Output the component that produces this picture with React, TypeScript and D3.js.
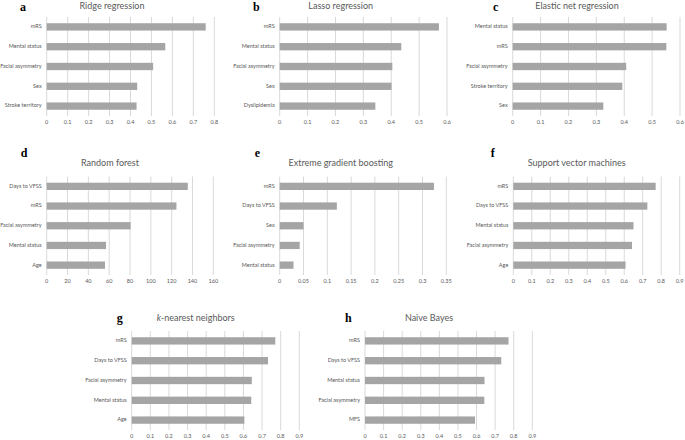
import React from "react";
import * as d3 from "d3";

// ---- data ----
const ridgeCats = ["mRS", "Mental status", "Facial asymmetry", "Sex", "Stroke territory"];
const ridgeVals = [0.759, 0.566, 0.508, 0.432, 0.429];
const ridgeTicks = [0, 0.1, 0.2, 0.3, 0.4, 0.5, 0.6, 0.7, 0.8];

const lassoCats = ["mRS", "Mental status", "Facial asymmetry", "Sex", "Dyslipidemia"];
const lassoVals = [0.571, 0.436, 0.404, 0.401, 0.343];
const lassoTicks = [0, 0.1, 0.2, 0.3, 0.4, 0.5, 0.6];

const elasticCats = ["Mental status", "mRS", "Facial asymmetry", "Stroke territory", "Sex"];
const elasticVals = [0.552, 0.551, 0.407, 0.393, 0.325];
const elasticTicks = [0, 0.1, 0.2, 0.3, 0.4, 0.5, 0.6];

const rfCats = ["Days to VFSS", "mRS", "Facial asymmetry", "Mental status", "Age"];
const rfVals = [135.5, 124.6, 80.6, 57, 56];
const rfTicks = [0, 20, 40, 60, 80, 100, 120, 140, 160];

const xgbCats = ["mRS", "Days to VFSS", "Sex", "Facial asymmetry", "Mental status"];
const xgbVals = [0.324, 0.12, 0.05, 0.042, 0.029];
const xgbTicks = [0, 0.05, 0.1, 0.15, 0.2, 0.25, 0.3, 0.35];

const svmCats = ["mRS", "Days to VFSS", "Mental status", "Facial asymmetry", "Age"];
const svmVals = [0.77, 0.725, 0.65, 0.642, 0.607];
const svmTicks = [0, 0.1, 0.2, 0.3, 0.4, 0.5, 0.6, 0.7, 0.8, 0.9];

const knnCats = ["mRS", "Days to VFSS", "Facial asymmetry", "Mental status", "Age"];
const knnVals = [0.771, 0.732, 0.645, 0.642, 0.605];
const knnTicks = [0, 0.1, 0.2, 0.3, 0.4, 0.5, 0.6, 0.7, 0.8, 0.9];

const nbCats = ["mRS", "Days to VFSS", "Mental status", "Facial asymmetry", "MFS"];
const nbVals = [0.772, 0.733, 0.643, 0.642, 0.592];
const nbTicks = [0, 0.1, 0.2, 0.3, 0.4, 0.5, 0.6, 0.7, 0.8, 0.9];

const panelLetters = ["a", "b", "c", "d", "e", "f", "g", "h"];

// ---- layout ----
const layouts = [
  { x0: 46.7, x1: 214.3, top: 17, bot: 116, tx: 112, ty: 6.5, lx: 20, ly: 11 },
  { x0: 279.7, x1: 447, top: 17, bot: 116, tx: 340.7, ty: 6.5, lx: 253, ly: 11 },
  { x0: 512.7, x1: 680, top: 17, bot: 116, tx: 577, ty: 6.5, lx: 493, ly: 11 },
  { x0: 46.7, x1: 213.3, top: 176.5, bot: 275, tx: 110, ty: 164, lx: 20.7, ly: 156.5 },
  { x0: 279.7, x1: 446.3, top: 176.5, bot: 275, tx: 340.7, ty: 164, lx: 254.7, ly: 156.5 },
  { x0: 513.3, x1: 679.7, top: 176.5, bot: 275, tx: 576.7, ty: 164, lx: 490.7, ly: 156.5 },
  { x0: 131.7, x1: 299.3, top: 331, bot: 430, tx: 195.7, ty: 319, lx: 116.7, ly: 322 },
  { x0: 365, x1: 532.3, top: 331, bot: 430, tx: 429, ty: 319, lx: 345, ly: 322 },
];

const panels = [
  { title: "Ridge regression", cats: ridgeCats, vals: ridgeVals, ticks: ridgeTicks },
  { title: "Lasso regression", cats: lassoCats, vals: lassoVals, ticks: lassoTicks },
  { title: "Elastic net regression", cats: elasticCats, vals: elasticVals, ticks: elasticTicks },
  { title: "Random forest", cats: rfCats, vals: rfVals, ticks: rfTicks },
  { title: "Extreme gradient boosting", cats: xgbCats, vals: xgbVals, ticks: xgbTicks },
  { title: "Support vector machines", cats: svmCats, vals: svmVals, ticks: svmTicks },
  { title: "k-nearest neighbors", cats: knnCats, vals: knnVals, ticks: knnTicks },
  { title: "Naive Bayes", cats: nbCats, vals: nbVals, ticks: nbTicks },
];

const FONT = "Lato, 'Open Sans', sans-serif";
const TEXT = "#595959";
const GRID = "#d9d9d9";
const BAR = "#a5a5a5";

function Panel({ p, l, letter }: any) {
  const x = d3
    .scaleLinear()
    .domain([p.ticks[0], p.ticks[p.ticks.length - 1]])
    .range([l.x0, l.x1]);
  const y = d3
    .scaleBand<string>()
    .domain(p.cats)
    .range([l.top, l.bot])
    .paddingInner(0.63)
    .paddingOuter(0.315);
  const fmt = (v: number) => String(+v.toFixed(2));
  return (
    <g>
      <text
        x={l.lx}
        y={l.ly}
        fontFamily="'Liberation Serif', 'DejaVu Serif', serif"
        fontWeight="bold"
        fontSize={12}
        fill="#000"
      >
        {letter}
      </text>
      <text
        x={l.tx}
        y={l.ty}
        textAnchor="middle"
        dominantBaseline="middle"
        fontFamily={FONT}
        fontSize={9}
        fill={TEXT}
      >
        {p.title.startsWith("k-") ? (
          <>
            <tspan fontStyle="italic">k</tspan>
            {p.title.slice(1)}
          </>
        ) : (
          p.title
        )}
      </text>
      {p.ticks.map((t: number) => (
        <g key={t}>
          <line
            x1={x(t)}
            x2={x(t)}
            y1={l.top}
            y2={l.bot}
            stroke={GRID}
            strokeWidth={1}
          />
          <text
            x={x(t)}
            y={l.bot + 6.5}
            textAnchor="middle"
            dominantBaseline="middle"
            fontFamily={FONT}
            fontSize={5.5}
            fill={TEXT}
          >
            {fmt(t)}
          </text>
        </g>
      ))}
      {p.cats.map((c: string, i: number) => (
        <g key={c}>
          <rect
            x={x(0)}
            y={y(c)}
            width={x(p.vals[i]) - x(0)}
            height={y.bandwidth()}
            fill={BAR}
          />
          <text
            x={l.x0 - 5}
            y={(y(c) as number) + y.bandwidth() / 2}
            textAnchor="end"
            dominantBaseline="middle"
            fontFamily={FONT}
            fontSize={5.5}
            fill={TEXT}
          >
            {c}
          </text>
        </g>
      ))}
    </g>
  );
}

export default function App() {
  return (
    <svg
      width={685}
      height={440}
      style={{ position: "absolute", left: 0, top: 0, background: "#fff", display: "block" }}
    >
      <rect width={685} height={440} fill="#fff" />
      {panels.map((p, i) => (
        <Panel key={i} p={p} l={layouts[i]} letter={panelLetters[i]} />
      ))}
    </svg>
  );
}
